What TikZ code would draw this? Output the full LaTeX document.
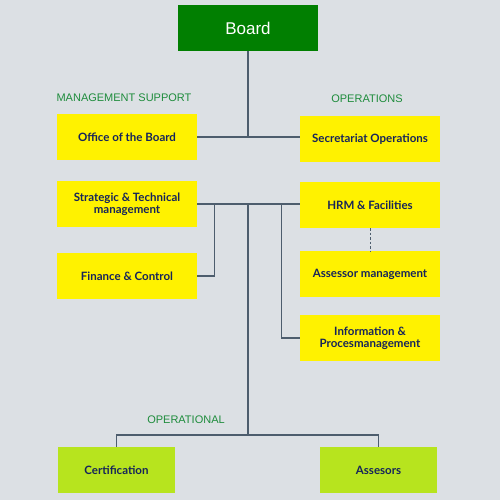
\documentclass[tikz,border=0pt]{standalone}
\usepackage{fontspec}
\setmainfont{Lato}
\newfontfamily\arialfont{Liberation Sans}
\usetikzlibrary{calc}
\definecolor{bgGrey}{HTML}{DCE0E4}
\definecolor{boardGreen}{HTML}{017F01}
\definecolor{unitYellow}{HTML}{FFF200}
\definecolor{opLime}{HTML}{B7E41E}
\definecolor{textNavy}{HTML}{16245A}
\definecolor{labelGreen}{HTML}{1E8C3C}
\definecolor{lineGrey}{HTML}{4D5D6D}
\tikzset{
	unit/.style={fill=unitYellow, text=textNavy, font=\bfseries\fontsize{11.5}{12}\selectfont, minimum width=140pt, minimum height=46pt, inner sep=0pt, align=center},
	opunit/.style={unit, fill=opLime, minimum width=117pt},
	grouplabel/.style={text=labelGreen, font=\arialfont\fontsize{11}{12}\selectfont, inner sep=0pt},
	link/.style={draw=lineGrey, line width=1.4pt}
}

\begin{document}
\begin{tikzpicture}[x=1pt, y=-1pt]
		%%%%% START %%%%%
		
		\fill[bgGrey] (0, 0) rectangle (500, 500);
		\useasboundingbox (0, 0) rectangle (500, 500);
		
		\node[fill=boardGreen, text=white, font=\arialfont\fontsize{17}{18}\selectfont, minimum width=140pt, minimum height=46pt, inner sep=0pt] (board) at (248, 28) {Board};
		
		\node[grouplabel] (lblsupport) at (124, 98) {MANAGEMENT SUPPORT};
		\node[grouplabel] (lblops) at (367, 99) {OPERATIONS};
		\node[grouplabel] (lbloperational) at (186, 420) {OPERATIONAL};
		
		\node[unit] (office) at (127, 137) {Office of the Board};
		\node[unit] (secretariat) at (370, 139) {Secretariat Operations};
		\node[unit] (strategic) at (127, 204) {Strategic \& Technical\\management};
		\node[unit] (hrm) at (370, 205) {HRM \& Facilities};
		\node[unit] (finance) at (127, 276) {Finance \& Control};
		\node[unit] (assessor) at (370, 274) {Assessor management};
		\node[unit] (information) at (370, 338) {Information \&\\Procesmanagement};
		
		\node[opunit] (certification) at (116.5, 470) {Certification};
		\node[opunit] (assesors) at (378.5, 470) {Assesors};
		
		\coordinate (hub) at (248, 435);
		
		\draw[link] (board.south) -- (board.south |- office.east);
		\draw[link] (office.east) -- (office.east -| secretariat.west);
		
		\draw[link] (strategic.east) -- (strategic.east -| hrm.west);
		\draw[link] ($(strategic.east)+(17, 0)$) |- (finance.east);
		\draw[link] ($(strategic.east)+(84, 0)$) |- (information.west);
		\draw[link] (hub |- strategic.east) -- (hub);
		\draw[link] (certification.north) |- (hub) -| (assesors.north);
		
		\draw[link, line width=1pt, dashed, dash pattern=on 2.5pt off 2pt] (hrm.south) -- (assessor.north);
		
		%%%%% END %%%%%
	\end{tikzpicture}
\end{document}
